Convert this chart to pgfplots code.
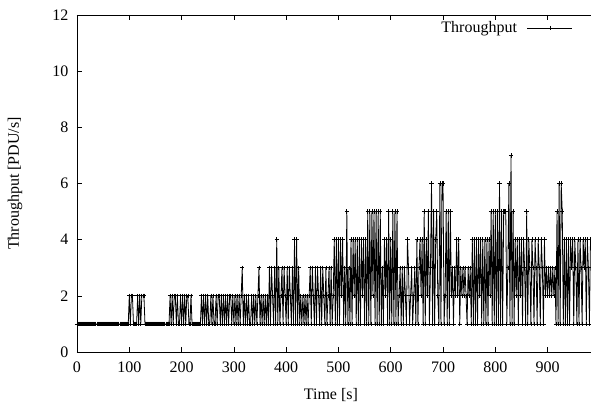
\documentclass[border=0pt]{standalone}
\usepackage{fontspec}
\setmainfont{Liberation Serif}
\usepackage{pgfplots}
\pgfplotsset{compat=1.18}

\begin{document}
\begin{tikzpicture}[font=\fontsize{16}{19}\selectfont]
\begin{axis}[
  width=514pt, height=337pt, scale only axis,
  xmin=0, xmax=983, ymin=0, ymax=12,
  xtick={0,100,...,900}, ytick={0,2,...,12},
  axis x line*=box, axis y line*=left,
  xtick pos=both, ytick pos=left,
  tick align=inside, major tick length=5pt,
  tick style={black, line width=0.6pt},
  axis line style={line width=0.8pt},
  /pgf/number format/assume math mode=true,
  tick label style={font=\fontsize{16}{19}\selectfont},
  xticklabel shift=6pt, yticklabel shift=5pt,
  xlabel={Time [s]}, ylabel={Throughput [PDU/s]},
  xlabel style={at={(axis description cs:0.494,-0.1276)}, anchor=center,
    font=\fontsize{16}{19}\selectfont},
  ylabel style={at={(axis description cs:-0.1206,0.5)}, anchor=center,
    rotate=0, font=\fontsize{16}{19}\selectfont},
  legend plot pos=right,
  legend style={draw=none, fill=none, inner sep=0pt, column sep=8pt,
    at={(axis description cs:0.965,0.961)}, anchor=east,
    font=\fontsize{16}{19}\selectfont},
  legend image code/.code={\draw[mark repeat=2,mark phase=2,#1]
    plot coordinates {(0pt,0pt)(22.5pt,0pt)(45pt,0pt)};},
]
% throughput samples, one every 2 s
\addplot[black, line width=0.8pt, mark=+, mark size=2.2pt,
  mark options={line width=0.7pt}] coordinates {
(0,1)(2,1)(4,1)(6,1)(8,1)(10,1)(12,1)(14,1)(16,1)(18,1)
(20,1)(22,1)(24,1)(26,1)(28,1)(30,1)(32,1)(34,1)(36,1)(38,1)
(40,1)(42,1)(44,1)(46,1)(48,1)(50,1)(52,1)(54,1)(56,1)(58,1)
(60,1)(62,1)(64,1)(66,1)(68,1)(70,1)(72,1)(74,1)(76,1)(78,1)
(80,1)(82,1)(84,1)(86,1)(88,1)(90,1)(92,1)(94,1)(96,1)(98,1)
(100,2)(102,1)(104,2)(106,2)(108,1)(110,1)(112,1)(114,1)(116,2)(118,1)
(120,2)(122,1)(124,2)(126,2)(128,2)(130,1)(132,1)(134,1)(136,1)(138,1)
(140,1)(142,1)(144,1)(146,1)(148,1)(150,1)(152,1)(154,1)(156,1)(158,1)
(160,1)(162,1)(164,1)(166,1)(168,1)(170,1)(172,1)(174,1)(176,1)(178,2)
(180,1)(182,2)(184,1)(186,2)(188,2)(190,1)(192,2)(194,1)(196,1)(198,2)
(200,1)(202,2)(204,1)(206,2)(208,1)(210,2)(212,2)(214,1)(216,1)(218,2)
(220,1)(222,1)(224,1)(226,1)(228,1)(230,1)(232,1)(234,1)(236,1)(238,2)
(240,1)(242,2)(244,1)(246,2)(248,1)(250,2)(252,1)(254,1)(256,2)(258,1)
(260,2)(262,1)(264,1)(266,2)(268,1)(270,2)(272,2)(274,1)(276,2)(278,1)
(280,2)(282,1)(284,2)(286,1)(288,2)(290,1)(292,2)(294,2)(296,1)(298,2)
(300,1)(302,2)(304,1)(306,2)(308,1)(310,2)(312,1)(314,2)(316,3)(318,1)
(320,2)(322,1)(324,2)(326,1)(328,2)(330,1)(332,1)(334,2)(336,1)(338,2)
(340,1)(342,2)(344,1)(346,2)(348,3)(350,1)(352,2)(354,1)(356,2)(358,1)
(360,2)(362,1)(364,2)(366,1)(368,3)(370,1)(372,3)(374,2)(376,1)(378,3)
(380,1)(382,4)(384,1)(386,3)(388,1)(390,2)(392,3)(394,1)(396,3)(398,2)
(400,1)(402,3)(404,1)(406,3)(408,2)(410,1)(412,3)(414,1)(416,4)(418,1)
(420,4)(422,1)(424,3)(426,1)(428,2)(430,1)(432,2)(434,1)(436,2)(438,1)
(440,2)(442,1)(444,2)(446,3)(448,1)(450,3)(452,2)(454,1)(456,3)(458,1)
(460,3)(462,2)(464,1)(466,3)(468,1)(470,3)(472,2)(474,1)(476,3)(478,1)
(480,2)(482,3)(484,1)(486,3)(488,1)(490,2)(492,4)(494,1)(496,4)(498,1)
(500,4)(502,1)(504,4)(506,2)(508,4)(510,1)(512,3)(514,1)(516,5)(518,1)
(520,3)(522,1)(524,4)(526,1)(528,4)(530,2)(532,4)(534,1)(536,4)(538,1)
(540,4)(542,1)(544,4)(546,2)(548,4)(550,1)(552,4)(554,1)(556,5)(558,1)
(560,5)(562,1)(564,5)(566,2)(568,5)(570,1)(572,5)(574,1)(576,5)(578,1)
(580,5)(582,1)(584,3)(586,1)(588,4)(590,2)(592,4)(594,1)(596,5)(598,1)
(600,4)(602,1)(604,5)(606,1)(608,5)(610,1)(612,5)(614,1)(616,2)(618,3)
(620,1)(622,3)(624,1)(626,3)(628,2)(630,1)(632,4)(634,3)(636,1)(638,2)
(640,3)(642,1)(644,2)(646,3)(648,1)(650,4)(652,1)(654,3)(656,4)(658,2)
(660,4)(662,1)(664,5)(666,1)(668,4)(670,2)(672,5)(674,1)(676,3)(678,6)
(680,1)(682,5)(684,1)(686,4)(688,5)(690,2)(692,1)(694,6)(696,1)(698,6)
(700,6)(702,1)(704,2)(706,5)(708,1)(710,5)(712,1)(714,5)(716,2)(718,3)
(720,1)(722,3)(724,2)(726,4)(728,2)(730,4)(732,1)(734,3)(736,2)(738,3)
(740,2)(742,3)(744,2)(746,1)(748,3)(750,2)(752,3)(754,1)(756,4)(758,1)
(760,4)(762,1)(764,4)(766,1)(768,4)(770,2)(772,4)(774,1)(776,4)(778,1)
(780,4)(782,1)(784,4)(786,1)(788,4)(790,2)(792,5)(794,1)(796,5)(798,1)
(800,5)(802,1)(804,5)(806,1)(808,6)(810,1)(812,5)(814,1)(816,5)(818,5)
(820,5)(822,1)(824,3)(826,6)(828,1)(830,7)(832,1)(834,5)(836,1)(838,4)
(840,2)(842,4)(844,1)(846,4)(848,2)(850,4)(852,1)(854,4)(856,3)(858,1)
(860,5)(862,1)(864,4)(866,3)(868,1)(870,4)(872,3)(874,1)(876,4)(878,3)
(880,1)(882,4)(884,3)(886,1)(888,4)(890,3)(892,1)(894,4)(896,2)(898,3)
(900,2)(902,3)(904,2)(906,3)(908,2)(910,3)(912,2)(914,3)(916,1)(918,5)
(920,1)(922,6)(924,1)(926,6)(928,5)(930,1)(932,4)(934,1)(936,4)(938,1)
(940,4)(942,1)(944,4)(946,3)(948,4)(950,1)(952,4)(954,3)(956,1)(958,4)
(960,1)(962,4)(964,3)(966,1)(968,4)(970,3)(972,4)(974,1)(976,4)(978,3)
(980,1)(982,4)
};
\addlegendentry{Throughput}
\end{axis}
% page frame: 77pt left of the plot area, 57pt below it, 591pt x 409pt in all
\pgfresetboundingbox
\path (current axis.south west) ++(-77pt,-57pt) rectangle ++(591pt,409pt);
\end{tikzpicture}
\end{document}
